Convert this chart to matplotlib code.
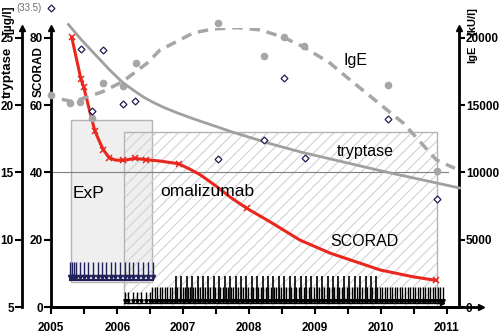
import numpy as np
import matplotlib.pyplot as plt
from matplotlib.patches import Rectangle
from matplotlib.transforms import offset_copy

plt.rcParams['font.family'] = ['Liberation Sans', 'DejaVu Sans']
plt.rcParams['hatch.linewidth'] = 0.8

# SCORAD visits (red crosses) and the smoothed course through them
scorad_years = [2005.31, 2005.45, 2005.49, 2005.66, 2005.79, 2005.88,
                2006.09, 2006.27, 2006.44, 2006.93, 2007.96, 2010.84]
scorad_values = [80.2, 67.7, 65.5, 52.4, 46.7, 44.4,
                 43.6, 44.2, 43.8, 42.6, 29.4, 7.9]
scorad_fit_years = [2005.31, 2005.45, 2005.49, 2005.59, 2005.66, 2005.74, 2005.79,
                    2005.88, 2005.97, 2006.09, 2006.27, 2006.44, 2006.65, 2006.93,
                    2007.10, 2007.26, 2007.51, 2007.71, 2007.96, 2008.32, 2008.77,
                    2009.23, 2009.99, 2010.48, 2010.84]
scorad_fit_values = [80.2, 67.7, 65.5, 57.7, 52.4, 48.8, 46.7,
                     44.4, 43.7, 43.6, 44.2, 43.8, 43.4, 42.6,
                     41.0, 39.3, 35.8, 32.7, 29.4, 25.3, 19.9,
                     16.0, 11.0, 9.0, 7.9]

# serum tryptase (diamonds) and trend
tryptase_years = [2005.00, 2005.45, 2005.62, 2005.79, 2006.09, 2006.27,
                  2007.53, 2008.23, 2008.53, 2008.85, 2010.11, 2010.85]
tryptase_values = [33.5, 24.2, 19.6, 24.1, 20.1, 20.3,
                   16.0, 17.4, 22.0, 16.1, 19.0, 13.0]
tryptase_fit_years = [2005.26, 2005.45, 2005.64, 2005.89, 2006.08, 2006.25, 2006.40,
                      2006.55, 2006.70, 2006.90, 2007.15, 2007.45, 2007.75, 2008.05,
                      2008.35, 2008.80, 2009.50, 2010.11, 2011.19]
tryptase_fit_values = [26.0, 24.9, 23.9, 22.6, 21.7, 21.1, 20.6,
                       20.2, 19.85, 19.45, 19.0, 18.5, 18.0, 17.55,
                       17.1, 16.5, 15.7, 15.0, 13.85]
tryptase_cap = 27.2  # values above this are drawn at the top with their number

# total IgE (grey dots) and trend
ige_years = [2005.00, 2005.28, 2005.44, 2005.62, 2005.79, 2006.08, 2006.28,
             2007.53, 2008.22, 2008.53, 2008.83, 2010.11, 2010.85]
ige_values = [15760, 15150, 15240, 14030, 16680, 16430, 18120,
              21120, 18640, 20050, 19380, 16510, 10110]
ige_fit_years = [2005.16, 2005.33, 2005.78, 2006.08, 2006.45, 2006.65, 2006.80,
                 2007.15, 2007.45, 2007.82, 2008.17, 2008.51, 2008.82, 2009.23,
                 2009.38, 2009.78, 2010.34, 2010.84, 2011.12]
ige_fit_values = [15440, 15260, 16010, 16750, 18120, 19110, 19480,
                  20370, 20670, 20770, 20600, 20070, 19350, 18120,
                  17490, 15890, 13660, 10930, 10310]

# treatment periods
exp_period = (2005.30, 2006.53)
oma_period = (2006.10, 2010.85)

# ExP sessions
exp_dates = [2005.284, 2005.314, 2005.344, 2005.382, 2005.435, 2005.496, 2005.564,
             2005.632, 2005.701, 2005.769, 2005.837, 2005.905, 2005.973, 2006.041,
             2006.110, 2006.178, 2006.246, 2006.315, 2006.391, 2006.459, 2006.535]
# omalizumab injections
oma_start_dates = [2006.11, 2006.17, 2006.24, 2006.30, 2006.36, 2006.43, 2006.49]
oma_biweekly = np.arange(2006.53, 2010.94, 14 / 365.25)
oma_monthly = np.arange(2006.89, 2010.01, 30 / 365.25)

year_ticks = [2005, 2006, 2007, 2008, 2009, 2010, 2011]
scorad_ticks = [0, 20, 40, 60, 80]
tryptase_ticks = [5, 10, 15, 20, 25]
ige_ticks = [0, 5000, 10000, 15000, 20000]

scorad_top = 82.97

fig = plt.figure(figsize=(5, 3.35), dpi=100)
ax = fig.add_axes([51.3 / 500, 1 - 307 / 335, 407.7 / 500, 279 / 335])
ax_t = ax.twinx()
ax_i = ax.twinx()

ax.set_xlim(2005, 2011.182)
ax.set_ylim(0, scorad_top)
ax_t.set_ylim(5, 5 + scorad_top / 4)
ax_i.set_ylim(0, scorad_top * 250)

tick_font = dict(fontsize=8.5, fontweight='bold')

# SCORAD axis
for s in ['top', 'right']:
    ax.spines[s].set_visible(False)
ax.spines['left'].set_linewidth(2)
ax.spines['bottom'].set_linewidth(2)
ax.set_yticks(scorad_ticks)
ax.set_yticklabels([str(v) for v in scorad_ticks], **tick_font)
ax.set_xticks(year_ticks)
ax.set_xticklabels([str(v) for v in year_ticks], **tick_font)
ax.set_xticks(np.arange(2005.5, 2011, 1.0), minor=True)
ax.tick_params(axis='x', which='both', direction='out', length=5, width=1.5, pad=6)
ax.tick_params(axis='y', direction='out', length=5, width=1.5, pad=1)

# tryptase axis on the far left
for s in ['top', 'right', 'bottom']:
    ax_t.spines[s].set_visible(False)
ax_t.spines['left'].set_visible(True)
ax_t.spines['left'].set_position(('outward', 21))
ax_t.spines['left'].set_linewidth(2)
ax_t.yaxis.set_ticks_position('left')
ax_t.set_yticks(tryptase_ticks)
ax_t.set_yticklabels([str(v) for v in tryptase_ticks], **tick_font)
ax_t.tick_params(axis='y', direction='out', length=5, width=1.5, pad=1)

# IgE axis on the right
for s in ['top', 'left', 'bottom']:
    ax_i.spines[s].set_visible(False)
ax_i.spines['right'].set_linewidth(2)
ax_i.set_yticks(ige_ticks)
ax_i.set_yticklabels([str(v) for v in ige_ticks], **tick_font)
ax_i.tick_params(axis='y', direction='out', length=4, width=1.5, pad=1)

# axis arrow heads
ax.plot([0], [1.0], marker='^', color='k', ms=5, transform=ax.transAxes, clip_on=False)
ax.plot([1], [1.0], marker='^', color='k', ms=5, transform=ax.transAxes, clip_on=False)
ax.plot([0], [1.0], marker='^', color='k', ms=5, clip_on=False,
        transform=offset_copy(ax.transAxes, fig=fig, x=-29.3, y=0, units='dots'))
ax.plot([0, 1.055], [0, 0], color='k', lw=2, transform=ax.transAxes, clip_on=False)
ax.plot([1.055], [0], marker='>', color='k', ms=5, transform=ax.transAxes, clip_on=False)

# treatment boxes
ax.add_patch(Rectangle((exp_period[0], 7.5), exp_period[1] - exp_period[0], 55.6 - 7.5,
                       facecolor='#efefef', edgecolor='#b4b4b4', lw=1, zorder=0.5))
ax.add_patch(Rectangle((oma_period[0], 0), oma_period[1] - oma_period[0], 52.1,
                       facecolor='none', edgecolor='#d2d2d2', lw=0, hatch='///', zorder=0.6))
ax.add_patch(Rectangle((oma_period[0], 0), oma_period[1] - oma_period[0], 52.1,
                       facecolor='none', edgecolor='#b4b4b4', lw=1, zorder=0.7))

# reference line at SCORAD 40
ax.plot([2005, 2011.02], [40, 40], color='#808080', lw=0.8, zorder=1)

# ExP sessions
ax.vlines(exp_dates, 8.6, 13.5, color='#22225a', lw=1, zorder=2)
ax.plot(exp_dates, [8.9] * len(exp_dates), 'v', color='#22225a', ms=3, zorder=2)
ax.plot([exp_dates[0], exp_dates[-1]], [7.9, 7.9], color='#22225a', lw=1.5, zorder=2)

# omalizumab injections
ax.vlines(oma_start_dates, 1.6, 4.5, color='k', lw=1, zorder=2)
ax.vlines(oma_biweekly, 1.6, 6.0, color='k', lw=1, zorder=2)
ax.vlines(oma_monthly, 1.6, 9.1, color='k', lw=1.2, zorder=2)
oma_all = list(oma_start_dates) + list(oma_biweekly)
ax.plot(oma_all, [1.9] * len(oma_all), 'v', color='k', ms=2.5, zorder=2)
ax.plot([2006.10, 2010.93], [1.1, 1.1], color='k', lw=1, zorder=2)
ax.plot([2010.93], [1.1], '>', color='k', ms=3, zorder=2)

# IgE
ax_i.plot(ige_fit_years, ige_fit_values, color='#a6a6a6', lw=2.5,
          dashes=(3, 2), zorder=3)
ax_i.plot(ige_years, ige_values, 'o', color='#a6a6a6', ms=5.5, mew=0,
          clip_on=False, zorder=3)

# tryptase
ax_t.plot(tryptase_fit_years, tryptase_fit_values, color='#a0a0a0', lw=2,
          clip_on=False, zorder=3)
tryptase_drawn = [min(v, tryptase_cap) for v in tryptase_values]
ax_t.plot(tryptase_years, tryptase_drawn, 'D', mfc='white', mec='#1e1e50',
          ms=3.5, mew=0.9, clip_on=False, zorder=4)
for yr, v in zip(tryptase_years, tryptase_values):
    if v > tryptase_cap:
        ax_t.annotate('(%.1f)' % v, (yr, tryptase_cap), xytext=(-7, 0),
                      textcoords='offset points', ha='right', va='center',
                      fontsize=7, color='#707070', annotation_clip=False)

# SCORAD
ax.plot(scorad_fit_years, scorad_fit_values, color='#e8281e', lw=2.2, zorder=5)
ax.plot(scorad_years, scorad_values, 'x', color='#e8281e', ms=4.5, mew=1.1, zorder=5)

ax_i.set_zorder(ax.get_zorder() + 1)
ax_t.set_zorder(ax.get_zorder() + 2)
ax.patch.set_visible(False)
ax_i.patch.set_visible(False)
ax_t.patch.set_visible(False)

# series and treatment labels
ax.text(2005.557, 33.9, 'ExP', fontsize=12.5, ha='center', va='center', zorder=6)
ax.text(2006.648, 34.3, 'omalizumab', fontsize=12.5, ha='left', va='center', zorder=6)
ax.text(2009.76, 46.1, 'tryptase', fontsize=11.5, ha='center', va='center', zorder=6)
ax.text(2009.74, 19.6, 'SCORAD', fontsize=11.5, ha='center', va='center', zorder=6)
ax.text(2009.62, 73.2, 'IgE', fontsize=11.5, ha='center', va='center', zorder=6)

# axis titles
fig.text(8 / 500, 1 - 72 / 335, 'tryptase', rotation=90, ha='center', va='center',
         fontsize=9.5, fontweight='bold')
fig.text(8 / 500, 1 - 20 / 335, '[µg/l]', rotation=90, ha='center', va='center',
         fontsize=8.5, fontweight='bold')
fig.text(39 / 500, 1 - 72 / 335, 'SCORAD', rotation=90, ha='center', va='center',
         fontsize=8.5, fontweight='bold')
fig.text(472 / 500, 1 - 54 / 335, 'IgE', rotation=90, ha='center', va='center',
         fontsize=8, fontweight='bold')
fig.text(472 / 500, 1 - 21 / 335, '[kU/l]', rotation=90, ha='center', va='center',
         fontsize=8, fontweight='bold')

fig.savefig('out.png', dpi=100)
